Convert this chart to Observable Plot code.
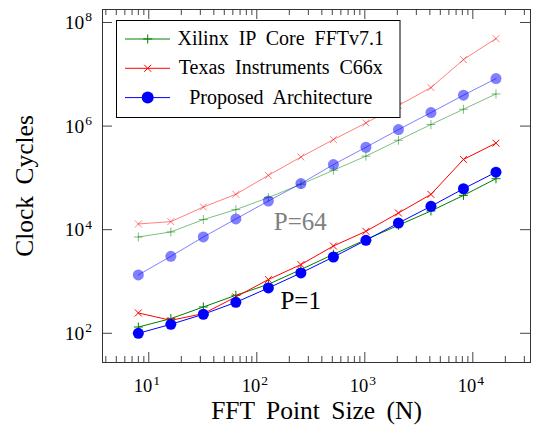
<!DOCTYPE html>
<html>
<head>
<meta charset="utf-8">
<script src="https://cdn.jsdelivr.net/npm/d3@7"></script>
<script src="https://cdn.jsdelivr.net/npm/@observablehq/plot@0.6"></script>
<style>
  html, body { margin: 0; padding: 0; background: #fff; }
  #wrap { position: relative; width: 536px; height: 434px; }
  #wrap svg { position: absolute; left: 0; top: 0; }
</style>
</head>
<body>
<div id="wrap"></div>
<script>
// ---- data ----
const fftSizes = [8, 16, 32, 64, 128, 256, 512, 1024, 2048, 4096, 8192, 16384];

const xilinxP1   = [132, 192, 322, 542, 883, 1700, 3350, 6440, 12170, 22970, 45900, 96400];
const tiP1       = [247, 178, 240, 503, 1090, 2120, 4840, 9300, 21000, 48000, 227000, 468000];
const proposedP1 = [100, 149, 233, 396, 750, 1460, 2970, 6240, 13450, 28300, 61700, 129000];

const xilinxP64   = [7230, 9040, 15700, 24400, 41700, 75100, 140000, 263000, 532000, 1070000, 2110000, 4170000];
const tiP64       = [12900, 14300, 27400, 48200, 112000, 253000, 548000, 1150000, 2500000, 5530000, 19200000, 48900000];
const proposedP64 = [1340, 3060, 7230, 16100, 35800, 77600, 180700, 390000, 855000, 1820000, 3940000, 8260000];

const seriesNames = ["Xilinx IP Core FFTv7.1", "Texas Instruments C66x", "Proposed Architecture"];
const seriesColors = ["#008000", "#ff0000", "#0000ff"];
const seriesSymbols = ["plus", "times", "circle"];

const xMajorTicks = [10, 100, 1000, 10000];
const yMajorTicks = [1e2, 1e4, 1e6, 1e8];
const annotations = [
  {label: "P=64", n: 143.5, v: 9700, color: "#808080"},
  {label: "P=1", n: 165.6, v: 299, color: "#000000"}
];

// ---- build ----
const FONT = "'Liberation Serif', 'Times New Roman', Times, serif";
const W = 536, H = 434, mL = 102, mR = 6, mT = 9, mB = 72;
const frameW = W - mL - mR, frameH = H - mT - mB;

const xMinorTicks = [];
for (let e = 0; e <= 4; e++) for (let k = 2; k <= 9; k++) {
  const v = k * Math.pow(10, e);
  if (v > 3.73 && v < 34200) xMinorTicks.push(v);
}

const plusSym = {draw(ctx, size) { const r = Math.sqrt(size / Math.PI); ctx.moveTo(-r, 0); ctx.lineTo(r, 0); ctx.moveTo(0, -r); ctx.lineTo(0, r); }};
const timesSym = {draw(ctx, size) { const r = Math.sqrt(size / Math.PI) * 0.75; ctx.moveTo(-r, -r); ctx.lineTo(r, r); ctx.moveTo(-r, r); ctx.lineTo(r, -r); }};

const groups = [
  {p: 64, opacity: 0.5, values: [xilinxP64, tiP64, proposedP64]},
  {p: 1, opacity: 1, values: [xilinxP1, tiP1, proposedP1]}
];

const dataMarks = [];
for (const g of groups) {
  g.values.forEach((vals, si) => {
    const rows = fftSizes.map((n, i) => ({n, v: vals[i]}));
    const color = seriesColors[si];
    dataMarks.push(Plot.line(rows, {x: "n", y: "v", stroke: color, strokeWidth: 1, strokeOpacity: g.opacity}));
    if (seriesSymbols[si] === "circle") {
      dataMarks.push(Plot.dot(rows, {x: "n", y: "v", r: 5.5, fill: color, stroke: "none", fillOpacity: g.opacity}));
    } else {
      dataMarks.push(Plot.dot(rows, {x: "n", y: "v", r: seriesSymbols[si] === "plus" ? 4.5 : 4.6,
        symbol: seriesSymbols[si] === "plus" ? plusSym : timesSym,
        fill: "none", stroke: color, strokeWidth: 1, strokeOpacity: g.opacity}));
    }
  });
}

const expOf = d => String(Math.round(Math.log10(d)));
const tickColor = "#444";
const chart = Plot.plot({
  width: W, height: H,
  marginLeft: mL, marginRight: mR, marginTop: mT, marginBottom: mB,
  x: {type: "log", domain: [3.727, 34200], axis: null},
  y: {type: "log", domain: [27.3, 1.78e8], axis: null},
  style: {fontFamily: FONT, background: "white", overflow: "visible"},
  marks: [
    // ticks
    Plot.tickX(xMajorTicks, {x: d => d, insetTop: frameH - 10, stroke: tickColor}),
    Plot.tickX(xMajorTicks, {x: d => d, insetBottom: frameH - 10, stroke: tickColor}),
    Plot.tickX(xMinorTicks, {x: d => d, insetTop: frameH - 6, stroke: tickColor}),
    Plot.tickX(xMinorTicks, {x: d => d, insetBottom: frameH - 6, stroke: tickColor}),
    Plot.tickY(yMajorTicks, {y: d => d, insetRight: frameW - 10, stroke: tickColor}),
    Plot.tickY(yMajorTicks, {y: d => d, insetLeft: frameW - 10, stroke: tickColor}),
    ...dataMarks,
    // annotations
    Plot.text(annotations, {x: "n", y: "v", text: "label", fill: "color", textAnchor: "start", lineAnchor: "bottom", fontSize: 25}),
    // tick labels (10^k, superscript added below)
    Plot.text(xMajorTicks, {x: d => d, text: d => "10^" + expOf(d), frameAnchor: "bottom", textAnchor: "middle", lineAnchor: "bottom", dx: -2, dy: 29.5, fontSize: 18.5, fill: "black"}),
    Plot.text(yMajorTicks, {y: d => d, text: d => "10^" + expOf(d), frameAnchor: "left", textAnchor: "end", lineAnchor: "bottom", dx: -10.5, dy: 6.5, fontSize: 19.5, fill: "black"}),
    // axis labels
    Plot.text(["FFT Point Size (N)"], {text: d => d, frameAnchor: "bottom", textAnchor: "middle", lineAnchor: "bottom", dy: 56, fontSize: 25.5, fill: "black"}),
    Plot.text(["Clock Cycles"], {text: d => d, frameAnchor: "left", textAnchor: "middle", lineAnchor: "bottom", rotate: -90, dx: -70, fontSize: 25.5, fill: "black"}),
    Plot.frame({stroke: "#333", strokeWidth: 1})
  ]
});
chart.querySelectorAll("text").forEach(t => {
  t.style.wordSpacing = "5px";
  const m = /^10\^(\d+)$/.exec(t.textContent);
  if (m) {
    const tgt = t.querySelector("tspan") || t;
    tgt.textContent = "10";
    const sup = document.createElementNS("http://www.w3.org/2000/svg", "tspan");
    sup.setAttribute("dy", "-7.5");
    sup.setAttribute("dx", "1");
    sup.setAttribute("font-size", "13.5");
    sup.textContent = m[1];
    tgt.appendChild(sup);
  }
});
document.getElementById("wrap").appendChild(chart);

// ---- legend (overlay) ----
const leg = d3.select("#wrap").append("svg")
  .attr("width", W).attr("height", H)
  .style("pointer-events", "none");
const box = {x: 116.5, y: 20.5, w: 283.5, h: 97};
leg.append("rect").attr("x", box.x).attr("y", box.y).attr("width", box.w).attr("height", box.h)
  .attr("fill", "white").attr("stroke", "black").attr("stroke-width", 1);
seriesNames.forEach((name, i) => {
  const cy = 39 + i * 29.3;
  const color = seriesColors[i];
  const g = leg.append("g");
  g.append("line").attr("x1", 125).attr("x2", 170).attr("y1", cy).attr("y2", cy).attr("stroke", color).attr("stroke-width", 1);
  if (seriesSymbols[i] === "circle") {
    g.append("circle").attr("cx", 147.7).attr("cy", cy).attr("r", 6).attr("fill", color);
  } else if (seriesSymbols[i] === "plus") {
    g.append("path").attr("d", `M${147.7-4.5},${cy}H${147.7+4.5}M147.7,${cy-4.5}V${cy+4.5}`).attr("stroke", color).attr("stroke-width", 1).attr("fill", "none");
  } else {
    const r = 3.5;
    g.append("path").attr("d", `M${147.7-r},${cy-r}L${147.7+r},${cy+r}M${147.7-r},${cy+r}L${147.7+r},${cy-r}`).attr("stroke", color).attr("stroke-width", 1).attr("fill", "none");
  }
  g.append("text").attr("x", 280.8).attr("y", cy + 6).attr("text-anchor", "middle")
    .attr("font-family", FONT).attr("font-size", 20).style("word-spacing", "5px").attr("fill", "black").text(name);
});
</script>
</body>
</html>
